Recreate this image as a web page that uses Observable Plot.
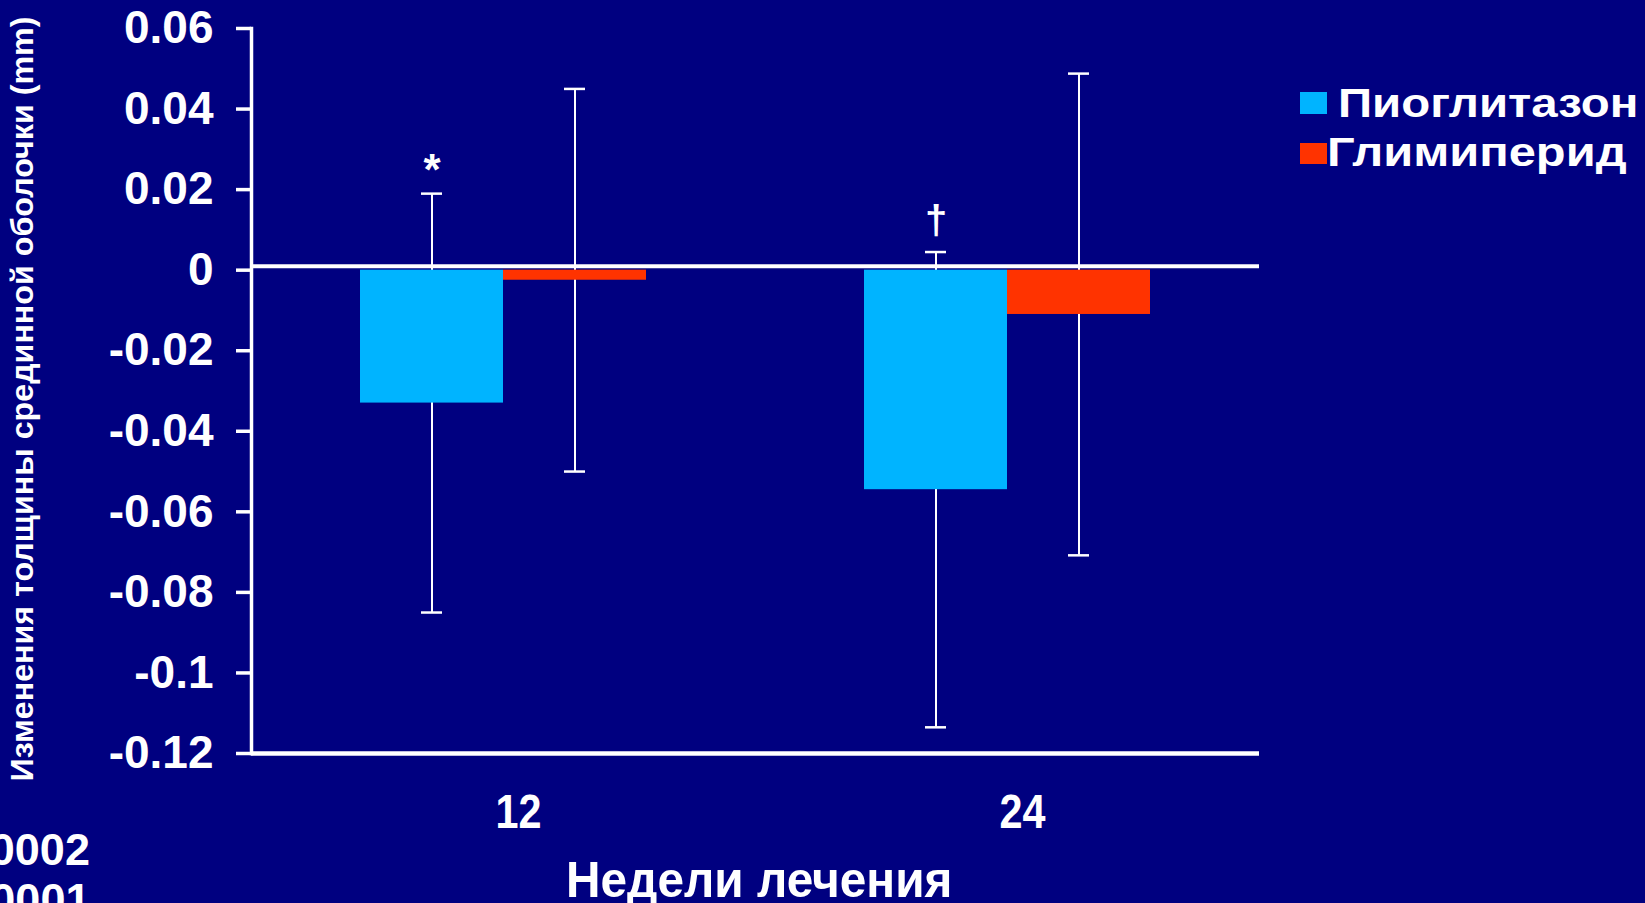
<!DOCTYPE html>
<html>
<head>
<meta charset="utf-8">
<script src="https://cdn.jsdelivr.net/npm/d3@7"></script>
<script src="https://cdn.jsdelivr.net/npm/@observablehq/plot@0.6"></script>
<style>
  html, body { margin: 0; padding: 0; background: #000080; overflow: hidden; }
  #wrap { position: relative; width: 1645px; height: 903px; background: #000080; overflow: hidden; }
  #wrap svg { position: absolute; left: 0; top: 0; }
  .t { position: absolute; color: #fff; font-weight: bold; white-space: nowrap; line-height: 1; font-family: "Liberation Sans", Arial, sans-serif; }
  .narrow { font-family: "Liberation Sans Narrow", "Liberation Sans", Arial, sans-serif; }
  .sw { position: absolute; }
</style>
</head>
<body>
<div id="wrap"></div>
<script>
// ---- data ----
const weeks = ["12", "24"];
const drugs = ["Пиоглитазон", "Глимиперид"];
const pioMean = [-0.033, -0.0545];
const pioSD = [0.052, 0.059];
const gliMean = [-0.0025, -0.011];
const gliSD = [0.0475, 0.0598];
const sigMarks = ["*", "†"];
const yTicks = [0.06, 0.04, 0.02, 0, -0.02, -0.04, -0.06, -0.08, -0.1, -0.12];
const yTickLabels = ["0.06", "0.04", "0.02", "0", "-0.02", "-0.04", "-0.06", "-0.08", "-0.1", "-0.12"];
const colors = ["#00B4FF", "#FF3300"];
const yTitle = "Изменения толщины срединной оболочки (mm)";
const xTitle = "Недели лечения";
const pNotes = ["*p=0.0002", "†p=0.0001"];

const rows = weeks.flatMap((w, i) => [
  {week: w, drug: drugs[0], mean: pioMean[i], sd: pioSD[i], mark: sigMarks[i]},
  {week: w, drug: drugs[1], mean: gliMean[i], sd: gliSD[i], mark: ""}
]);

const white = "#ffffff";
const chart = Plot.plot({
  width: 1645,
  height: 903,
  marginLeft: 251,
  marginRight: 386,
  marginTop: 28,
  marginBottom: 150,
  style: {background: "transparent", color: white, fontFamily: "'Liberation Sans', Arial, sans-serif", fontWeight: "bold", overflow: "visible"},
  fx: {domain: weeks, paddingInner: 0, paddingOuter: 0, label: null},
  x: {domain: drugs, paddingInner: 0, paddingOuter: 0.756, axis: null},
  y: {domain: [-0.12, 0.06], label: null, axis: null},
  color: {domain: drugs, range: colors},
  marks: [
    Plot.ruleX(rows, {fx: "week", x: "drug", y1: d => d.mean - d.sd, y2: d => d.mean + d.sd, stroke: white, strokeWidth: 2}),
    Plot.tickY(rows, {fx: "week", x: "drug", y: d => d.mean + d.sd, stroke: white, strokeWidth: 2.5, insetLeft: 61, insetRight: 61}),
    Plot.tickY(rows, {fx: "week", x: "drug", y: d => d.mean - d.sd, stroke: white, strokeWidth: 2.5, insetLeft: 61, insetRight: 61}),
    Plot.barY(rows, {fx: "week", x: "drug", y: "mean", fill: "drug"}),
    Plot.text(rows.filter(d => d.mark === sigMarks[0]), {fx: "week", x: "drug", y: d => d.mean + d.sd, text: "mark", lineAnchor: "bottom", dy: -9, fontSize: 44, fill: white}),
    Plot.text(rows.filter(d => d.mark === sigMarks[1]), {fx: "week", x: "drug", y: d => d.mean + d.sd, text: "mark", lineAnchor: "bottom", dy: -18, fontSize: 40, fill: white}),
    Plot.ruleY([0], {stroke: white, strokeWidth: 4, dy: -4}),
    Plot.ruleY([-0.12], {stroke: white, strokeWidth: 4.5}),
    Plot.frame({anchor: "left", facetAnchor: "left", stroke: white, strokeWidth: 3.5}),
    Plot.axisY({ticks: yTicks, tickFormat: d => yTickLabels[yTicks.indexOf(d)], anchor: "left", tickSize: 15, tickPadding: 23, fontSize: 46, stroke: white, strokeWidth: 3.5, fill: white, label: null}),
    Plot.axisFx({anchor: "bottom", tickSize: 0, tickPadding: 40, fontSize: 49, fill: white, dx: 15, label: null})
  ]
});

const wrap = document.getElementById("wrap");
wrap.appendChild(chart);

// narrow look of the week labels
chart.querySelectorAll('g[aria-label="fx-axis tick label"] text').forEach(t => {
  t.setAttribute("textLength", "46");
  t.setAttribute("lengthAdjust", "spacingAndGlyphs");
});

function addText(txt, cls, css) {
  const el = document.createElement("div");
  el.className = "t " + (cls || "");
  el.textContent = txt;
  Object.assign(el.style, css);
  wrap.appendChild(el);
  return el;
}
function addSwatch(color, css) {
  const el = document.createElement("div");
  el.className = "sw";
  Object.assign(el.style, {background: color}, css);
  wrap.appendChild(el);
  return el;
}
function fitX(el, target) {
  const w = el.offsetWidth;
  const s = target / w;
  el.style.transformOrigin = "left top";
  el.style.transform = `scaleX(${s})`;
}

// legend
addSwatch(colors[0], {left: "1300px", top: "92px", width: "27px", height: "22px"});
addSwatch(colors[1], {left: "1300px", top: "143px", width: "27px", height: "21px"});
const l1 = addText(drugs[0], "", {left: "1338px", top: "83px", fontSize: "40px"});
const l2 = addText(drugs[1], "", {left: "1327px", top: "132px", fontSize: "40px"});
fitX(l1, 300);
fitX(l2, 300);

// x title
const xt = addText(xTitle, "narrow", {left: "566px", top: "855px", fontSize: "50px"});
fitX(xt, 386);

// y title (rotated)
const yt = addText(yTitle, "narrow", {fontSize: "32px"});
{
  const w = yt.offsetWidth, h = yt.offsetHeight;
  const s = 765 / w;
  yt.style.left = (22 - w / 2) + "px";
  yt.style.top = (398.5 - h / 2) + "px";
  yt.style.transformOrigin = "50% 50%";
  yt.style.transform = `rotate(-90deg) scaleX(${s})`;
}

// p-value notes at bottom left (cut at the edge as in the source)
pNotes.forEach((p, i) => {
  const el = addText(p, "", {fontSize: "45px", top: (827 + i * 50) + "px"});
  el.style.left = (90 - el.offsetWidth) + "px";
});
</script>
</body>
</html>
